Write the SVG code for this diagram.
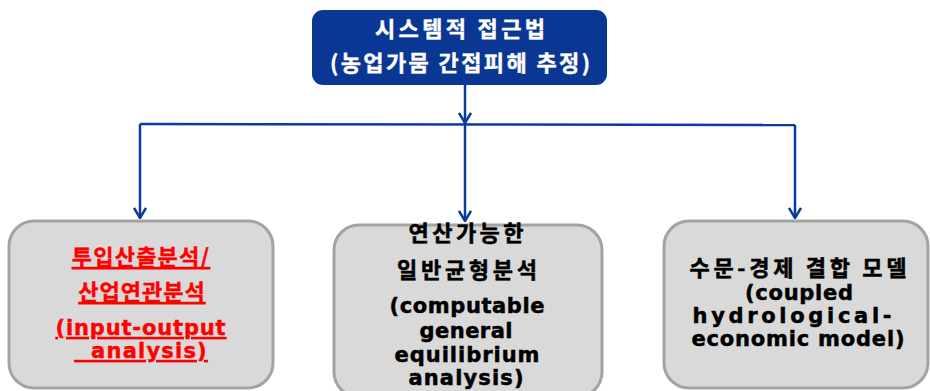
<svg xmlns="http://www.w3.org/2000/svg" width="930" height="391" viewBox="0 0 930 391">
<style>
.kr{font-family:"Noto Sans CJK KR","Noto Sans",sans-serif;font-weight:bold;font-size:22px;text-anchor:middle}
.en{font-family:"DejaVu Sans","Noto Sans CJK KR",sans-serif;font-weight:bold;font-size:21px;text-anchor:middle}
.white{fill:#ffffff;stroke:#ffffff;stroke-width:0.4}
.black{fill:#000000;stroke:#000000;stroke-width:0.5}
.red{fill:#ff0000;stroke:#ff0000;stroke-width:0.4;text-decoration:underline;white-space:pre}
.gbox{fill:#d9d9d9;stroke:#a3a3a3;stroke-width:3}
.conn{stroke:#0a3a9e;stroke-width:2.5;fill:none}
</style>
<defs>
<marker id="arr" viewBox="0 0 12 14" refX="11" refY="7" markerWidth="12" markerHeight="14" markerUnits="userSpaceOnUse" orient="auto">
<path d="M1,1 L11,7 L1,13" fill="none" stroke="#0a3a9e" stroke-width="2.5"/>
</marker>
</defs>
<g id="connectors">
<line class="conn" x1="465" y1="85" x2="465" y2="123" marker-end="url(#arr)"/>
<polyline class="conn" points="140,124 795,125"/>
<line class="conn" x1="140" y1="124" x2="140" y2="218" marker-end="url(#arr)"/>
<line class="conn" x1="465" y1="124" x2="465" y2="221" marker-end="url(#arr)"/>
<line class="conn" x1="795" y1="125" x2="795" y2="218" marker-end="url(#arr)"/>
</g>
<g id="top">
<rect x="312" y="10" width="295" height="75" rx="11" fill="#0a3694"/>
<text class="kr white" x="460" y="37" textLength="170" lengthAdjust="spacing">시스템적 접근법</text>
<text class="kr white" x="460" y="71" textLength="260" lengthAdjust="spacing">(농업가뭄 간접피해 추정)</text>
</g>
<g id="io">
<rect class="gbox" x="9" y="221" width="264" height="167" rx="25"/>
<text class="kr red" x="141" y="265" letter-spacing="1.2">투입산출분석/</text>
<text class="kr red" x="142" y="300" letter-spacing="1">산업연관분석</text>
<text class="en red" x="141" y="335" letter-spacing="0.85">(input-output</text>
<text class="en red" x="141" y="358" letter-spacing="1.2">  analysis)</text>
</g>
<g id="cge">
<rect class="gbox" x="334" y="225" width="268" height="172" rx="25"/>
<text class="kr black" x="466" y="241" textLength="115" lengthAdjust="spacing">연산가능한</text>
<text class="kr black" x="467" y="278" textLength="140" lengthAdjust="spacing">일반균형분석</text>
<text class="en black" x="467" y="313" textLength="155" lengthAdjust="spacing">(computable</text>
<text class="en black" x="466" y="338" textLength="93" lengthAdjust="spacing">general</text>
<text class="en black" x="467" y="362" textLength="145" lengthAdjust="spacing">equilibrium</text>
<text class="en black" x="466" y="385" textLength="115" lengthAdjust="spacing">analysis)</text>
</g>
<g id="hydro">
<rect class="gbox" x="664" y="221" width="264" height="167" rx="25"/>
<text class="kr black" x="798" y="276" textLength="217" lengthAdjust="spacing">수문-경제 결합 모델</text>
<text class="en black" x="799" y="300" textLength="108" lengthAdjust="spacing">(coupled</text>
<text class="en black" x="792" y="323" textLength="199" lengthAdjust="spacing">hydrological-</text>
<text class="en black" x="798" y="346" textLength="213" lengthAdjust="spacing">economic model)</text>
</g>
</svg>
